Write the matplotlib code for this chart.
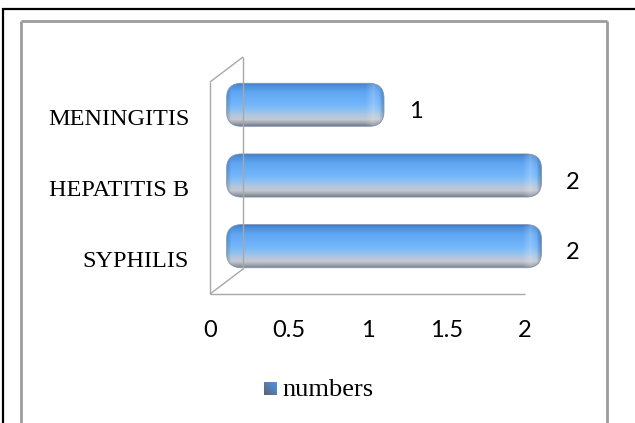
import numpy as np
import matplotlib
matplotlib.use('Agg')
import matplotlib.pyplot as plt
import matplotlib.transforms as mtransforms
from matplotlib.patches import FancyBboxPatch
from matplotlib.lines import Line2D
from matplotlib.colors import to_rgb

diseases = ['SYPHILIS', 'HEPATITIS B', 'MENINGITIS']
numbers = [2, 2, 1]
xticks = [0, 0.5, 1, 1.5, 2]
xticklabels = ['0', '0.5', '1', '1.5', '2']
legend_label = 'numbers'

W, H = 635, 423
fig = plt.figure(figsize=(W / 100, H / 100), dpi=100)
fig.patch.set_facecolor('white')

def fx(px):
    return px / W

def fy(py):
    return 1 - py / H

def fig_line(x0, y0, x1, y1, color, lw):
    fig.add_artist(Line2D([fx(x0), fx(x1)], [fy(y0), fy(y1)], transform=fig.transFigure,
                          color=color, lw=lw, solid_capstyle='butt'))

# page frame + chart frame
fig_line(2, 9, 635, 9, 'black', 1.6)
fig_line(3, 8, 3, 423, 'black', 1.6)
gray = '#9c9c9c'
fig_line(20.5, 21.5, 607, 21.5, gray, 2.0)
fig_line(20.5, 21.5, 20.5, 423, gray, 2.0)
fig_line(607, 21.5, 607, 423, gray, 2.0)

# plot area (front plane) in pixels
L, R, T, B = 210, 525, 82, 294
depth = (33, 25)
ax = fig.add_axes([fx(L), fy(B), (R - L) / W, (B - T) / H])
ax.set_facecolor('none')

# 3d walls
wall = '#a8a8a8'
fig_line(L, T, L, B, wall, 1.0)
fig_line(L, B, R, B, wall, 1.0)
fig_line(L + depth[0], T - depth[1], L + depth[0], B - depth[1], wall, 1.0)
fig_line(L, T, L + depth[0], T - depth[1], wall, 1.0)
fig_line(L, B, L + depth[0], B - depth[1], wall, 1.0)

ypos = np.arange(len(diseases))
bars = ax.barh(ypos, numbers, height=0.61, visible=False)
ax.set_xlim(0, 2)
ax.set_ylim(-0.5, len(diseases) - 0.5)

# bars sit half way into the depth
bar_trans = ax.transData + mtransforms.ScaledTranslation(
    depth[0] / 2 / 100, depth[1] / 2 / 100, fig.dpi_scale_trans)

px_x = (R - L) / 2.0
px_y = (B - T) / len(diseases)
rad_px = 15
stops = [(0.00, '#3a74c2'), (0.07, '#4c8ed9'), (0.22, '#5fa5f2'), (0.50, '#72b5fb'),
         (0.64, '#8ac0f0'), (0.76, '#b2c6de'), (0.86, '#c3c9d2'), (0.95, '#9a9fa8'),
         (1.00, '#7a7f88')]

def bar_image(wpx, hpx):
    t = np.linspace(0, 1, hpx)
    pos = [s[0] for s in stops]
    cols = np.array([to_rgb(s[1]) for s in stops])
    col = np.stack([np.interp(t, pos, cols[:, k]) for k in range(3)], axis=1)
    img = np.repeat(col[:, None, :], wpx, axis=1)
    xs = np.arange(wpx)
    from_right = wpx - 1 - xs
    light = np.clip(1 - np.abs(from_right - 11) / 8.0, 0, 1) * 0.22
    dark = np.clip(1 - from_right / 5.0, 0, 1) * 0.25 + np.clip(1 - xs / 4.0, 0, 1) * 0.15
    img = img + (1 - img) * light[None, :, None]
    img = img * (1 - dark[None, :, None])
    return np.clip(img, 0, 1)

for b in bars:
    x0, y0, w, h = b.get_x(), b.get_y(), b.get_width(), b.get_height()
    rx = rad_px / px_x
    asp = px_x / px_y
    patch = FancyBboxPatch((x0, y0), w, h,
                           boxstyle=f'round,pad=0,rounding_size={rx}',
                           mutation_aspect=asp, transform=bar_trans,
                           facecolor='none', edgecolor='#7f97b5', lw=0.6, zorder=4,
                           clip_on=False)
    ax.add_patch(patch)
    img = bar_image(int(w * px_x), int(h * px_y))
    im = ax.imshow(img, extent=[x0, x0 + w, y0, y0 + h], transform=bar_trans,
                   aspect='auto', origin='upper', interpolation='bilinear', zorder=3)
    im.set_clip_box(fig.bbox)
    im.set_clip_path(patch)

ax.set_xlim(0, 2)
ax.set_ylim(-0.5, len(diseases) - 0.5)

for s in ax.spines.values():
    s.set_visible(False)
ax.set_yticks(ypos, diseases, fontfamily='Liberation Serif', fontsize=17.5)
ax.set_xticks(xticks, xticklabels, fontfamily='Lato', fontsize=17)
ax.tick_params(axis='y', length=0, pad=15)
ax.tick_params(axis='x', length=0, pad=19)

for y, v in zip(ypos, numbers):
    ax.annotate(str(v), (v, y), xytext=(48, 6), textcoords='offset pixels',
                ha='center', va='center', fontfamily='Lato', fontsize=17,
                annotation_clip=False)

# legend key
key = np.zeros((13, 13, 3))
for i in range(13):
    for j in range(13):
        t = (j - i + 12) / 24.0
        key[i, j] = np.array(to_rgb('#5b6470')) * (1 - t) + np.array(to_rgb('#4c95e8')) * t
fig.figimage(key, xo=264, yo=H - 395, origin='upper', zorder=5)
fig.text(fx(282), fy(396), legend_label, ha='left', va='baseline',
         fontfamily='Liberation Serif', fontsize=19)

fig.savefig('out.png', dpi=100)
